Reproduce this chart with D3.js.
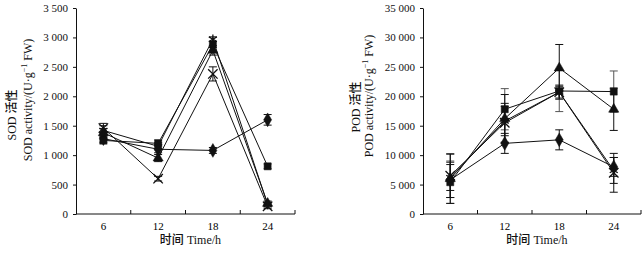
<!DOCTYPE html>
<html>
<head>
<meta charset="utf-8">
<script src="https://cdn.jsdelivr.net/npm/d3@7"></script>
<style>
  body { margin: 0; background: #fff; }
  svg { display: block; }
  .tick text { font-family: "Liberation Serif", "DejaVu Serif", serif; font-size: 11px; fill: #111; }
  .domain, .tick line { stroke: #111; stroke-width: 1; }
  .ttl { font-family: "Liberation Serif", serif; font-size: 12px; fill: #111; }
  .cjk { font-family: "Noto Sans CJK SC", sans-serif; font-weight: 500; }
</style>
</head>
<body>
<svg id="chart" width="644" height="256"></svg>
<script>
// time points (h)
var times = ["6", "12", "18", "24"];
var markers = ["diamond", "square", "triangle", "x", "asterisk"];

// SOD activity, U/g FW
var sodDiamond  = [1280, 1100, 1080, 1600];
var sodSquare   = [1250, 1200, 2880, 810];
var sodTriangle = [1380, 950, 2780, 180];
var sodX        = [1460, 600, 2380, 130];
var sodStar     = [1420, 1150, 2970, 160];
var sodErr = [
  [60, 60, 50, 90],
  [60, 60, 50, 40],
  [70, 60, 80, 40],
  [80, 40, 120, 40],
  [80, 60, 40, 40]
];

// POD activity, U/g FW
var podDiamond  = [5800, 12000, 12600, 8000];
var podSquare   = [5400, 17800, 20900, 20800];
var podTriangle = [6000, 16200, 24800, 17800];
var podX        = [6500, 15500, 20700, 7000];
var podStar     = [6200, 15800, 20700, 7400];
var podErr = [
  [3000, 1700, 1700, 1600],
  [3600, 3500, 3500, 3500],
  [4200, 4100, 4000, 3600],
  [3700, 3300, 1200, 3300],
  [2200, 2500, 1000, 2200]
];

var sodTicks = d3.range(0, 3501, 500);
var podTicks = d3.range(0, 35001, 5000);

var svg = d3.select("#chart");
var fmt = function(v) { return d3.format(",")(v).replace(",", " "); };

var symbolOf = {
  diamond: d3.symbolDiamond,
  square: d3.symbolSquare,
  triangle: d3.symbolTriangle,
  x: d3.symbolTimes,
  asterisk: d3.symbolAsterisk
};
var sizeOf = { diamond: 55, square: 50, triangle: 45, x: 60, asterisk: 60 };

function panel(opt) {
  var x = d3.scaleBand().domain(times).range([opt.left, opt.right]);
  var y = d3.scaleLinear().domain([0, opt.max]).range([214, 8]);
  var g = svg.append("g");

  // y axis
  g.append("g")
      .attr("transform", "translate(" + opt.left + ",0)")
      .call(d3.axisLeft(y).tickValues(opt.ticks).tickFormat(fmt)
          .tickSize(3).tickPadding(5).tickSizeOuter(0));

  // x axis, ticks between categories, pointing up
  var xa = g.append("g").attr("transform", "translate(0,214)");
  xa.append("line")
      .attr("x1", opt.left).attr("x2", opt.right)
      .attr("stroke", "#111");
  xa.selectAll("line.sep")
    .data(times.slice(1).concat(["end"]))
    .join("line")
      .attr("class", "sep")
      .attr("x1", function(d) { return d === "end" ? opt.right : x(d); })
      .attr("x2", function(d) { return d === "end" ? opt.right : x(d); })
      .attr("y1", 0).attr("y2", -4)
      .attr("stroke", "#111");
  xa.selectAll("text")
    .data(times)
    .join("text")
      .attr("class", "tick")
      .attr("x", function(d) { return x(d) + x.bandwidth() / 2; })
      .attr("y", 16)
      .attr("text-anchor", "middle")
      .style("font-family", "Liberation Serif, serif")
      .style("font-size", "11px")
      .text(function(d) { return d; });

  var cx = function(i) { return x(times[i]) + x.bandwidth() / 2; };

  // lines
  var line = d3.line()
      .x(function(d, i) { return cx(i); })
      .y(function(d) { return y(d); });
  opt.series.forEach(function(s) {
    g.append("path")
        .datum(s)
        .attr("d", line)
        .attr("fill", "none")
        .attr("stroke", "#111")
        .attr("stroke-width", 1);
  });

  // error bars
  opt.series.forEach(function(s, k) {
    s.forEach(function(v, i) {
      var e = opt.err[k][i], px = cx(i);
      var eb = g.append("g").attr("stroke", k === 1 ? "#555" : "#111").attr("stroke-width", 1);
      eb.append("line").attr("x1", px).attr("x2", px).attr("y1", y(v - e)).attr("y2", y(v + e));
      [v - e, v + e].forEach(function(c) {
        eb.append("line").attr("x1", px - 4).attr("x2", px + 4).attr("y1", y(c)).attr("y2", y(c));
      });
    });
  });

  // markers
  opt.series.forEach(function(s, k) {
    var m = markers[k];
    var stroked = (m === "x" || m === "asterisk");
    g.selectAll(null)
      .data(s)
      .join("path")
        .attr("transform", function(d, i) { return "translate(" + cx(i) + "," + y(d) + ")"; })
        .attr("d", d3.symbol(symbolOf[m], sizeOf[m]))
        .attr("fill", stroked ? "none" : "#111")
        .attr("stroke", "#111")
        .attr("stroke-width", stroked ? 1.3 : 0.5);
  });

  // y title, two rotated lines
  var t1 = g.append("text")
      .attr("class", "ttl")
      .attr("transform", "translate(" + opt.t1x + "," + opt.t1y + ") rotate(-90)")
      .attr("text-anchor", "middle");
  t1.append("tspan").text(opt.name + " ");
  t1.append("tspan").attr("class", "cjk").text("活性");

  var t2 = g.append("text")
      .attr("class", "ttl")
      .attr("transform", "translate(" + opt.t2x + "," + opt.t2y + ") rotate(-90)")
      .attr("text-anchor", "middle");
  t2.append("tspan").text(opt.name + " activity/(U·g");
  t2.append("tspan").attr("dy", -5).style("font-size", "8px").text("−1");
  t2.append("tspan").attr("dy", 5).text(" FW)");

  // x title
  var xt = g.append("text")
      .attr("class", "ttl")
      .attr("x", (opt.left + opt.right) / 2 + 5)
      .attr("y", 244)
      .attr("text-anchor", "middle");
  xt.append("tspan").attr("class", "cjk").text("时间");
  xt.append("tspan").text(" Time/h");
}

panel({
  name: "SOD", left: 76, right: 295, max: 3500, ticks: sodTicks,
  series: [sodDiamond, sodSquare, sodTriangle, sodX, sodStar], err: sodErr,
  t1x: 16, t1y: 115, t2x: 32, t2y: 100
});

panel({
  name: "POD", left: 423, right: 641, max: 35000, ticks: podTicks,
  series: [podDiamond, podSquare, podTriangle, podX, podStar], err: podErr,
  t1x: 360, t1y: 107, t2x: 373, t2y: 96
});
</script>
</body>
</html>
